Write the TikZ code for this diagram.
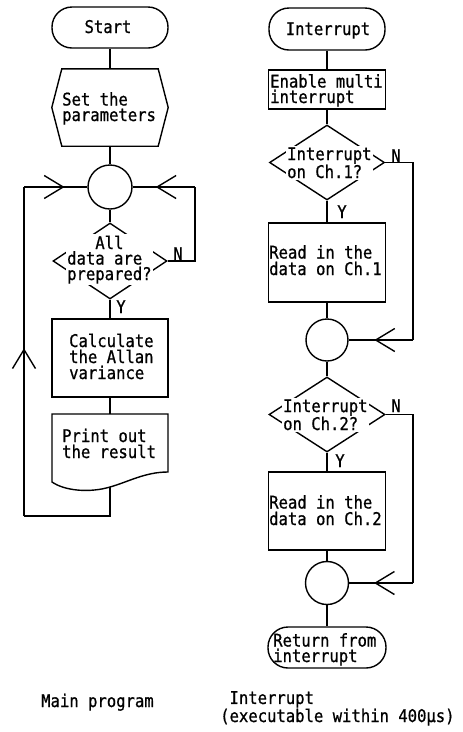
\documentclass[tikz,border=0pt]{standalone}
\usepackage{fontspec}
\newfontfamily\ocr[FakeStretch=0.89,FakeBold=0.8]{DejaVu Sans Mono}
\usetikzlibrary{shapes.geometric,arrows.meta,decorations.markings}
\tikzset{
  ln/.style={line width=1.4pt},
  term/.style={draw, line width=1.4pt, rectangle, rounded corners=20pt, inner sep=0pt},
  proc/.style={draw, line width=1.4pt, rectangle, inner sep=0pt},
  conn/.style={draw, line width=1.4pt, circle, inner sep=0pt},
  decis/.style={draw, line width=1.4pt, diamond, inner sep=0pt},
  ghost/.style={rectangle, inner sep=0pt},
  txt/.style={font=\ocr\fontsize{17.5}{#1}\selectfont, inner sep=0pt, align=left},
  txt/.default=15.5,
  dtxt/.style={txt=#1, fill=white, inner xsep=1pt, inner ysep=1.5pt},
  dtxt/.default=15.5,
  flow/.style={line width=1.4pt},
  arrowat/.style={postaction={decorate, decoration={markings, mark=at position #1 with {\arrow{Straight Barb[length=19pt,width=23pt]}}}}},
}
\begin{document}
\begin{tikzpicture}[x=1pt,y=-1pt]
\useasboundingbox (0,0) rectangle (463,732);
\fill[white] (0,0) rectangle (463,732);
% ---------- main program shapes
\node[term, minimum width=116pt, minimum height=41pt] (start) at (110,27.5) {};
\node[ghost, minimum width=116pt, minimum height=77pt] (params) at (110,107.5) {};
\draw[ln] (params.west) -- ([xshift=10pt]params.north west) -- ([xshift=-10pt]params.north east) -- (params.east) -- ([xshift=-10pt]params.south east) -- ([xshift=10pt]params.south west) -- cycle;
\node[conn, minimum size=44pt] (circ1) at (110,187) {};
\node[decis, minimum width=114pt, minimum height=76pt] (dia1) at (110,261) {};
\node[proc, minimum width=116pt, minimum height=78pt] (calc) at (110,358) {};
\node[ghost, minimum width=116pt, minimum height=68pt] (print) at (110,448) {};
\draw[ln] (52,482) -- (52,414) -- (168,414) -- (168,472) .. controls (145,472) and (128,482) .. (110,487) .. controls (90,493) and (65,491) .. (52,482) -- cycle;
\coordinate (pbot) at (110,487);
\coordinate (lbot) at (24,516);
\coordinate (ltop) at (24,187);
\coordinate (r1) at (195,187);
% ---------- interrupt shapes
\node[term, minimum width=116pt, minimum height=42pt] (intr) at (327,29) {};
\node[proc, minimum width=117pt, minimum height=39pt] (enable) at (327,89.5) {};
\node[decis, minimum width=115pt, minimum height=75pt] (dia2) at (327,162.5) {};
\node[proc, minimum width=117pt, minimum height=79pt] (read1) at (327,262.5) {};
\node[conn, minimum size=42pt] (circ2) at (327,340) {};
\node[decis, minimum width=116pt, minimum height=75pt] (dia3) at (327,414.5) {};
\node[proc, minimum width=117pt, minimum height=78pt] (read2) at (327,511) {};
\node[conn, minimum size=43pt] (circ3) at (327,583) {};
\node[term, minimum width=118pt, minimum height=41pt] (ret) at (327,647.5) {};
\coordinate (r2) at (413,340);
\coordinate (r3) at (413,583);
% ---------- connectors, main program
\draw[flow] (start) -- (params);
\draw[flow] (params) -- (circ1);
\draw[flow] (circ1) -- (dia1);
\draw[flow] (dia1) -- (calc);
\draw[flow] (calc) -- (print);
\draw[flow] (pbot) |- (lbot);
\draw[flow, arrowat=0.51] (lbot) -- (ltop);
\draw[flow, arrowat=0.64] (ltop) -- (circ1);
\draw[flow] (dia1.east) -| (r1);
\draw[flow, arrowat=0.63] (r1) -- (circ1);
% ---------- connectors, interrupt
\draw[flow] (intr) -- (enable);
\draw[flow] (enable) -- (dia2);
\draw[flow] (dia2) -- (read1);
\draw[flow] (read1) -- (circ2);
\draw[flow] (circ2) -- (dia3);
\draw[flow] (dia3) -- (read2);
\draw[flow] (read2) -- (circ3);
\draw[flow] (circ3) -- (ret);
\draw[flow] (dia2.east) -| (r2);
\draw[flow, arrowat=0.6] (r2) -- (circ2);
\draw[flow] (dia3.east) -| (r3);
\draw[flow, arrowat=0.61] (r3) -- (circ3);
% ---------- texts, main program
\node[txt, anchor=base] (tstart) at (108,33) {Start};
\node[txt, anchor=base west] (tpar) at (62,121) {Set the\\parameters};
\node[dtxt, anchor=base west] (tdata) at (66,280) {\hphantom{dat}All\\data are\\prepared?};
\node[txt, anchor=base] (n1) at (178,260) {N};
\node[txt, anchor=base] (y1) at (121,313) {Y};
\node[txt=16, anchor=base west] (tcalc) at (69,379) {Calculate\\the Allan\\variance};
\node[txt=16, anchor=base west] (tprint) at (62,458) {Print out\\the result};
\node[txt, anchor=base west] (tmain) at (41,707) {Main program};
% ---------- texts, interrupt
\node[txt, anchor=base] (tint) at (328,35) {Interrupt};
\node[txt, anchor=base west] (ten) at (270,103) {Enable multi\\interrupt};
\node[dtxt, anchor=base west] (td2) at (286,178) {Interrupt\\on Ch.1?};
\node[txt, anchor=base] (n2) at (396,162) {N};
\node[txt, anchor=base] (y2) at (342,218) {Y};
\node[txt=16.5, anchor=base west] (tr1) at (269,275) {Read in the\\data on Ch.1};
\node[dtxt, anchor=base west] (td3) at (282,430) {Interrupt\\on Ch.2?};
\node[txt, anchor=base] (n3) at (396,412) {N};
\node[txt, anchor=base] (y3) at (340,467) {Y};
\node[txt=16.5, anchor=base west] (tr2) at (269,525) {Read in the\\data on Ch.2};
\node[txt, anchor=base west] (tret) at (273,662) {Return from\\interrupt};
\node[txt, anchor=base west] (tcap) at (220,722) {\hphantom{(}Interrupt\\(executable within 400μs)};
\end{tikzpicture}
\end{document}
